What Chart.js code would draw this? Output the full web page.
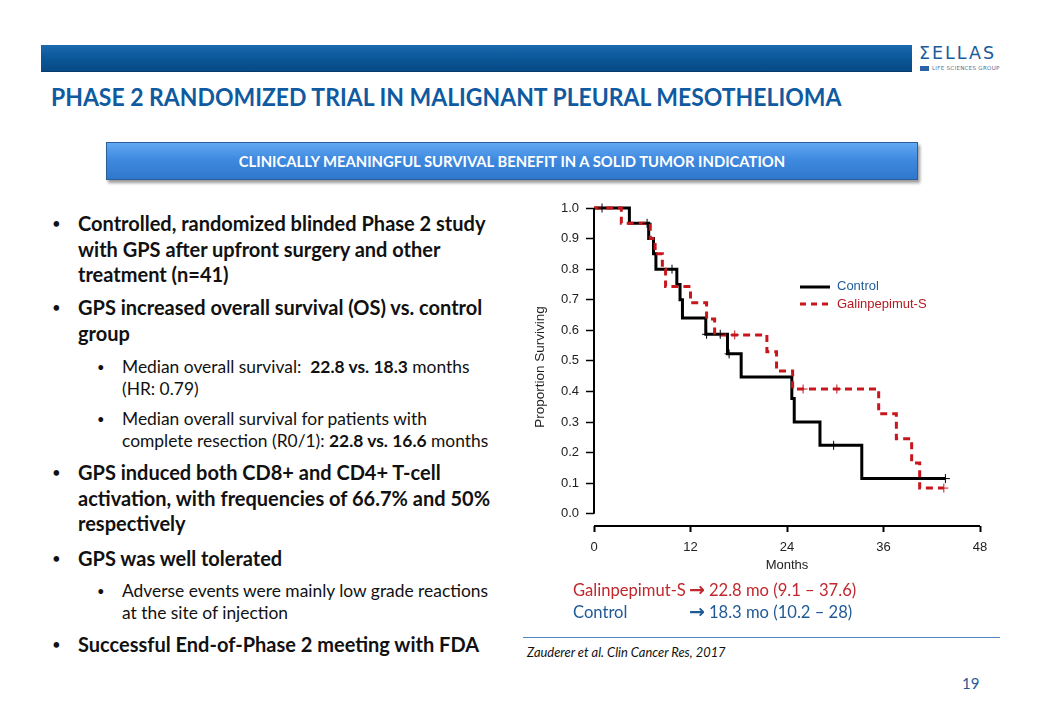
<!DOCTYPE html>
<html>
<head>
<meta charset="utf-8">
<script src="https://cdn.jsdelivr.net/npm/chart.js@4.4.1/dist/chart.umd.min.js"></script>
<style>
  body { margin: 0; width: 1040px; height: 720px; background: #fff; position: relative; overflow: hidden; font-family: Lato, "Open Sans", sans-serif; }
  .abs { position: absolute; white-space: nowrap; }
  #banner { left: 41px; top: 45px; width: 871px; height: 26px; background: linear-gradient(#1b69b0, #0a5596 55%, #074a86); border-bottom: 1px solid #063a69; }
  #logo { left: 919px; top: 43px; font-family: "DejaVu Sans", sans-serif; font-size: 17.5px; letter-spacing: 2px; color: #1b5b9b; }
  #logoSub { left: 920px; top: 65px; font-size: 5.5px; color: #4a6f98; font-family: "DejaVu Sans", sans-serif; letter-spacing: 0.3px; }
  #logoSub span { display: inline-block; width: 9px; height: 5px; background: #2a64a6; margin-right: 3px; vertical-align: middle; }
  #title { left: 51px; top: 81px; font-weight: 700; font-size: 25px; line-height: 30px; color: #0f5aa0; transform: scaleX(0.918); transform-origin: 0 0; }
  #subbox { left: 106px; top: 142px; width: 810px; height: 36px; background: linear-gradient(#63a9f2, #3f8ae0 45%, #2f77cc); border: 1px solid #2b5f9c; box-shadow: 2px 3px 3px rgba(0,0,0,0.4); }
  #subtext { left: 106px; top: 142px; width: 812px; text-align: center; line-height: 38px; color: #fff; font-weight: 700; font-size: 14.8px; }
  .b { position: absolute; left: 78px; font-weight: 700; font-size: 20px; line-height: 25.6px; color: #111; white-space: nowrap; }
  .s { position: absolute; left: 122px; font-size: 17.4px; line-height: 22px; color: #111; white-space: nowrap; }
  .dot { position: absolute; font-weight: 400; }
  .b .dot { left: -26px; font-size: 15px; }
  .s .dot { left: -25px; font-size: 13px; }
  .s b { font-weight: 700; }
  #chartBox { left: 500px; top: 190px; width: 500px; height: 400px; }
  #legend { left: 800px; top: 277px; font-family: "Liberation Sans", Arial, sans-serif; font-size: 13px; }
  #legend div { height: 17.6px; line-height: 17.6px; }
  #legend svg { vertical-align: middle; margin-right: 7px; }
  #med { left: 573px; top: 580px; font-size: 16.6px; line-height: 21.5px; }
  #med .lab { display: inline-block; width: 116px; }
  #med .arr { font-family: "DejaVu Sans", sans-serif; font-weight: 700; font-size: 19px; line-height: 16px; margin-right: 4px; }
  #rule { left: 523px; top: 637px; width: 477px; height: 0; border-top: 1.5px solid #4f88c6; }
  #cite { left: 527px; top: 644px; font-style: italic; font-size: 12.9px; color: #111; }
  #page { left: 962px; top: 674px; font-size: 15px; color: #1f5a96; }
</style>
</head>
<body>
<div class="abs" id="banner"></div>
<div class="abs" id="logo">ΣELLAS</div>
<div class="abs" id="logoSub"><span></span>LIFE SCIENCES GROUP</div>
<div class="abs" id="title">PHASE 2 RANDOMIZED TRIAL IN MALIGNANT PLEURAL MESOTHELIOMA</div>
<div class="abs" id="subbox"></div>
<div class="abs" id="subtext">CLINICALLY MEANINGFUL SURVIVAL BENEFIT IN A SOLID TUMOR INDICATION</div>

<div class="b" style="top:211px"><span class="dot">•</span>Controlled, randomized blinded Phase 2 study<br>with GPS after upfront surgery and other<br>treatment (n=41)</div>
<div class="b" style="top:295px"><span class="dot">•</span>GPS increased overall survival (OS) vs. control<br>group</div>
<div class="s" style="top:356px"><span class="dot">•</span>Median overall survival:&nbsp; <b>22.8 vs. 18.3</b> months<br>(HR: 0.79)</div>
<div class="s" style="top:408px"><span class="dot">•</span>Median overall survival for patients with<br>complete resection (R0/1): <b>22.8 vs. 16.6</b> months</div>
<div class="b" style="top:460px"><span class="dot">•</span>GPS induced both CD8+ and CD4+ T-cell<br>activation, with frequencies of 66.7% and 50%<br>respectively</div>
<div class="b" style="top:546px"><span class="dot">•</span>GPS was well tolerated</div>
<div class="s" style="top:580px"><span class="dot">•</span>Adverse events were mainly low grade reactions<br>at the site of injection</div>
<div class="b" style="top:632px"><span class="dot">•</span>Successful End-of-Phase 2 meeting with FDA</div>

<div class="abs" id="chartBox"><canvas id="km"></canvas></div>

<div class="abs" id="legend">
  <div style="color:#1f5c99"><svg width="30" height="4"><line x1="0" y1="2" x2="30" y2="2" stroke="#000" stroke-width="3"/></svg>Control</div>
  <div style="color:#b3191f"><svg width="30" height="4"><line x1="0" y1="2" x2="30" y2="2" stroke="#c8161d" stroke-width="3" stroke-dasharray="6 5"/></svg>Galinpepimut-S</div>
</div>

<div class="abs" id="med">
  <div style="color:#c0282d"><span class="lab">Galinpepimut-S</span><span class="arr">→</span>22.8 mo (9.1 – 37.6)</div>
  <div style="color:#1f5a96"><span class="lab">Control</span><span class="arr">→</span>18.3 mo (10.2 – 28)</div>
</div>
<div class="abs" id="rule"></div>
<div class="abs" id="cite">Zauderer et al. Clin Cancer Res, 2017</div>
<div class="abs" id="page">19</div>

<script>
// Kaplan-Meier steps (months, proportion surviving)
const ctrlMonths = [0, 4.4, 6.8, 7.4, 7.7, 10.3, 10.7, 11.0, 13.9, 16.6, 18.3, 24.6, 24.9, 28.1, 33.3, 43.7];
const ctrlSurv   = [1.0, 0.95, 0.90, 0.85, 0.80, 0.75, 0.70, 0.64, 0.587, 0.523, 0.447, 0.377, 0.30, 0.224, 0.115, 0.115];
const ctrlCensor = [1.0, 6.6, 9.7, 14.0, 15.7, 16.8, 29.8, 43.7];

const gpsMonths = [0, 3.4, 7.0, 7.6, 8.5, 8.9, 12.0, 14.0, 15.0, 21.5, 22.7, 24.7, 35.4, 37.6, 39.5, 40.5, 43.5];
const gpsSurv   = [1.0, 0.95, 0.90, 0.85, 0.80, 0.743, 0.69, 0.637, 0.585, 0.53, 0.467, 0.408, 0.327, 0.245, 0.166, 0.084, 0.084];
const gpsCensor = [17.5, 26.0, 30.2, 43.5];

const xTicks = [0, 12, 24, 36, 48];
const yTicks = [0.0, 0.1, 0.2, 0.3, 0.4, 0.5, 0.6, 0.7, 0.8, 0.9, 1.0];

function survAt(months, surv, t) {
    let s = surv[0];
    for (let i = 0; i < months.length; i++) if (months[i] <= t) s = surv[i];
    return s;
}
const pts = (m, s) => m.map((v, i) => ({x: v, y: s[i]}));
const censorPts = (c, m, s) => c.map(t => ({x: t, y: survAt(m, s, t)}));

// axis lines only over the data range, like the R plot
const axisLines = {
    id: 'axisLines',
    afterDraw(chart) {
        const {ctx, scales: {x, y}} = chart;
        const x0 = x.getPixelForValue(xTicks[0]);
        ctx.save();
        ctx.strokeStyle = '#000';
        ctx.lineWidth = 2;
        ctx.beginPath();
        ctx.moveTo(x0, y.getPixelForValue(yTicks[0]));
        ctx.lineTo(x0, y.getPixelForValue(yTicks[yTicks.length - 1]));
        ctx.moveTo(x0, y.bottom);
        ctx.lineTo(x.getPixelForValue(xTicks[xTicks.length - 1]), y.bottom);
        ctx.stroke();
        ctx.restore();
    }
};

const axisFont = {family: '"Liberation Sans", Arial, sans-serif', size: 13};

new Chart(document.getElementById('km'), {
    type: 'line',
    data: {
        datasets: [
            {label: 'GPS censored', data: censorPts(gpsCensor, gpsMonths, gpsSurv), showLine: false,
             pointStyle: 'cross', pointRadius: 4.5, borderColor: '#c8161d', borderWidth: 1, clip: false},
            {label: 'Control censored', data: censorPts(ctrlCensor, ctrlMonths, ctrlSurv), showLine: false,
             pointStyle: 'cross', pointRadius: 4.5, borderColor: '#000', borderWidth: 1, clip: false},
            {label: 'Galinpepimut-S', data: pts(gpsMonths, gpsSurv), stepped: true, borderColor: '#c8161d',
             borderWidth: 3, borderDash: [7, 5], pointRadius: 0, fill: false, clip: false},
            {label: 'Control', data: pts(ctrlMonths, ctrlSurv), stepped: true, borderColor: '#000',
             borderWidth: 3, pointRadius: 0, fill: false, clip: false}
        ]
    },
    options: {
        responsive: true,
        maintainAspectRatio: false,
        animation: false,
        layout: {padding: {top: 18, right: 20, left: 0, bottom: 0}},
        plugins: {legend: {display: false}, tooltip: {enabled: false}},
        scales: {
            x: {
                type: 'linear', min: 0, max: 48,
                afterBuildTicks: s => { s.ticks = xTicks.map(v => ({value: v})); },
                afterFit: s => { s.height = 64; },
                ticks: {font: axisFont, color: '#222', padding: 8, maxRotation: 0},
                grid: {drawOnChartArea: false, drawTicks: true, tickLength: 6, tickColor: '#000', tickWidth: 2},
                border: {display: false},
                title: {display: true, text: 'Months', font: {family: axisFont.family, size: 13}, color: '#222',
                        padding: {top: 0, bottom: 17}}
            },
            y: {
                type: 'linear', min: -0.04, max: 1.0,
                afterBuildTicks: s => { s.ticks = yTicks.map(v => ({value: v})); },
                afterFit: s => { s.width = 94; },
                ticks: {font: axisFont, color: '#222', padding: 7, callback: v => v.toFixed(1)},
                grid: {drawOnChartArea: false, drawTicks: true, tickLength: 8, tickColor: '#000', tickWidth: 1.5},
                border: {display: false},
                title: {display: true, text: 'Proportion Surviving', font: {family: axisFont.family, size: 13.5},
                        color: '#222', padding: {top: 32, bottom: 0}}
            }
        }
    },
    plugins: [axisLines]
});
</script>
</body>
</html>
